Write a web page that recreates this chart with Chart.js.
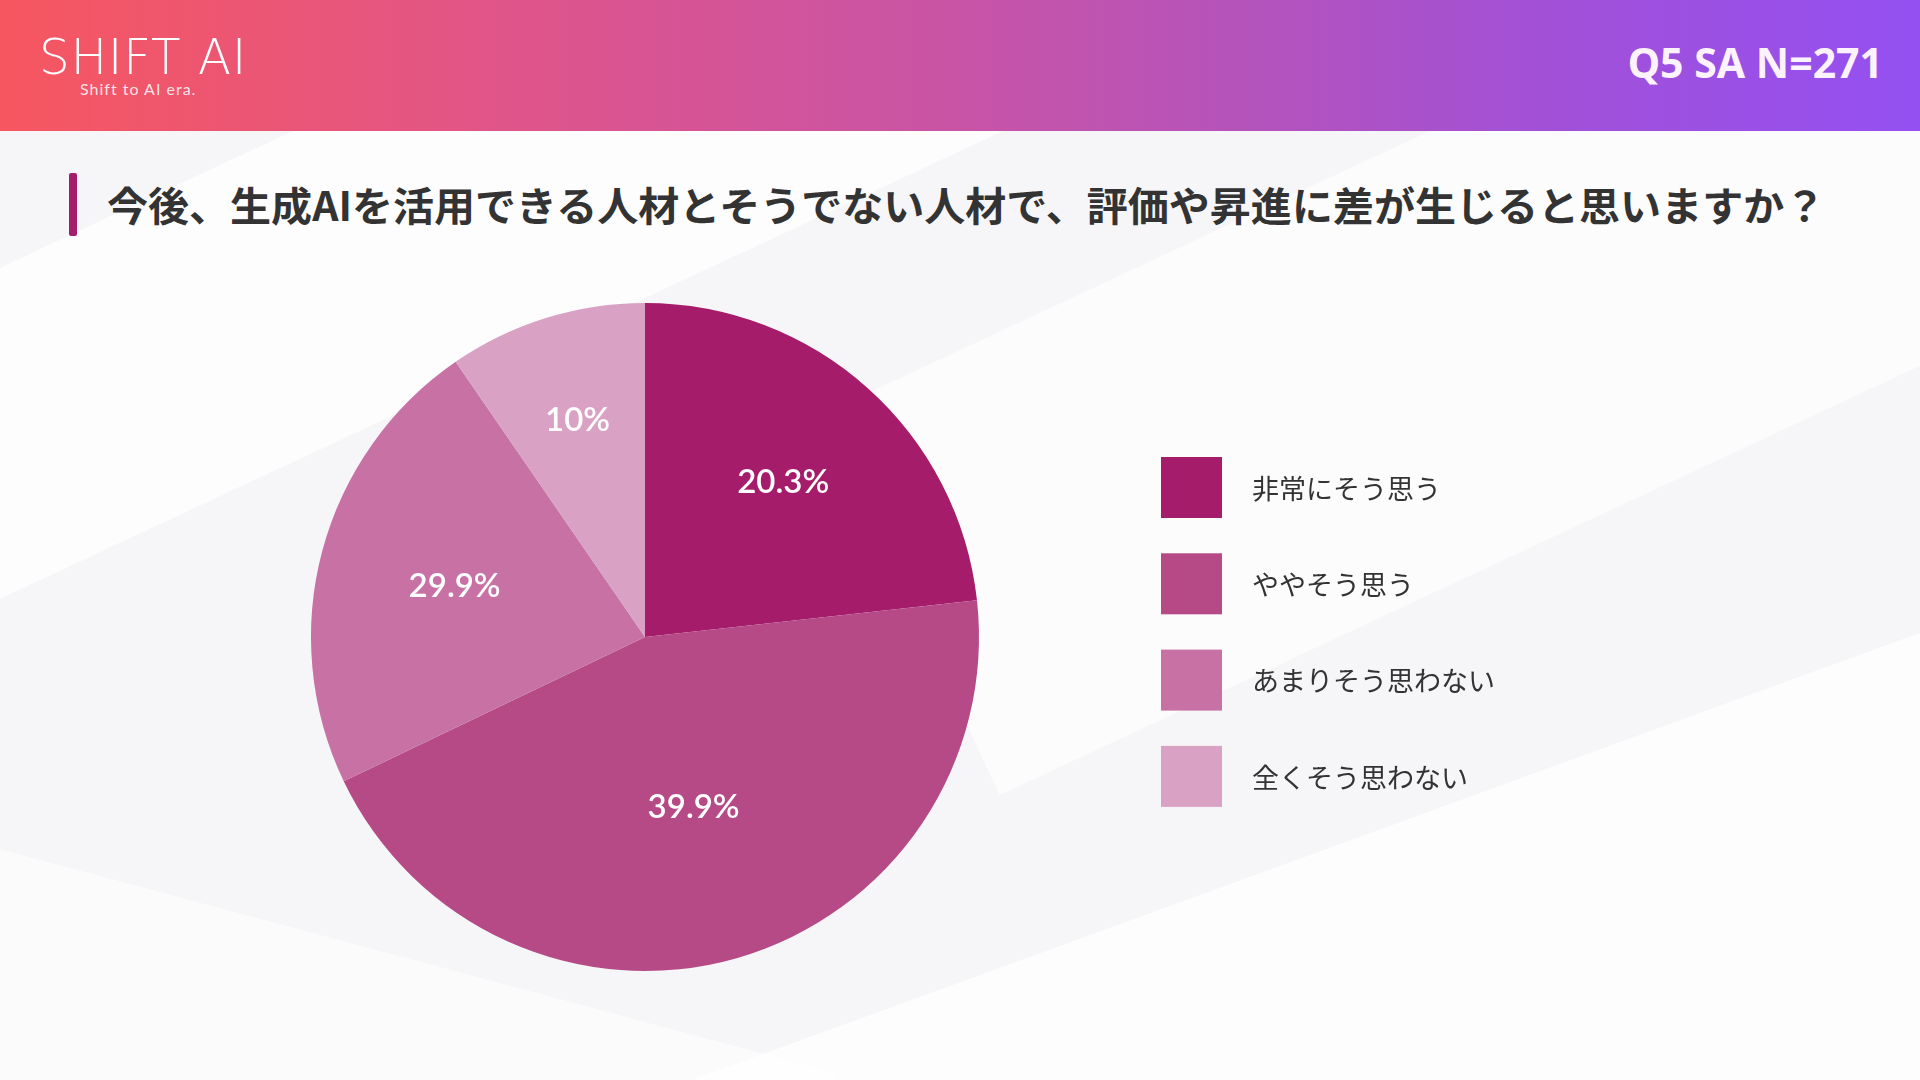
<!DOCTYPE html>
<html lang="ja">
<head>
<meta charset="utf-8">
<script src="https://cdn.jsdelivr.net/npm/chart.js@4.4.1/dist/chart.umd.min.js"></script>
<style>
  html, body { margin: 0; padding: 0; width: 1920px; height: 1080px; overflow: hidden; }
  body { position: relative; background: #f6f6f8; font-family: "Noto Sans CJK JP", "Noto Sans", sans-serif; }
  .bg { position: absolute; left: 0; top: 0; width: 1920px; height: 1080px; overflow: hidden; }
  .facet { position: absolute; background: rgba(255,255,255,0.85); }
  .header {
    position: absolute; left: 0; top: 0; width: 1920px; height: 131px;
    background: linear-gradient(90deg, #f6565f 0%, #e8567c 18%, #da5491 32%, #c854a6 50%, #b353bd 66%, #a250d6 80%, #9450f2 100%);
  }
  .logo { position: absolute; left: 39px; top: 33px; color: #fff; font-family: "DejaVu Sans", sans-serif; font-weight: 200; font-size: 49px; letter-spacing: 1px; line-height: 1; transform-origin: left top; }
  .logo-sub { position: absolute; left: 80px; top: 79px; color: rgba(255,255,255,0.85); font-family: "Lato", sans-serif; font-size: 16px; letter-spacing: 1px; }
  .qlabel { position: absolute; right: 37px; top: 38px; color: #fdf3ff; font-family: "Noto Sans", sans-serif; font-weight: 700; font-size: 41px; line-height: 1.2; }
  .title-bar { position: absolute; left: 69px; top: 173px; width: 8px; height: 63px; background: #a41e6b; border-radius: 2px; }
  .title { position: absolute; left: 107px; top: 176px; font-weight: 700; font-size: 40px; color: #333; white-space: nowrap; line-height: 1.4; transform-origin: left center; }
  #chart { position: absolute; left: 0; top: 0; }
</style>
</head>
<body>
<div class="bg">
  <div class="facet" style="left:-300px;top:120px;width:1300px;height:300px;transform:rotate(-25deg);opacity:0.9"></div>
  <div class="facet" style="left:850px;top:120px;width:1300px;height:420px;transform:rotate(-25deg);opacity:0.8"></div>
  <div class="facet" style="left:700px;top:820px;width:1500px;height:500px;transform:rotate(-20deg);opacity:0.9"></div>
  <div class="facet" style="left:-100px;top:950px;width:900px;height:400px;transform:rotate(15deg);opacity:0.7"></div>
</div>
<div class="header">
  <div class="logo" id="logo">SHIFT AI</div>
  <div class="logo-sub">Shift to AI era.</div>
  <div class="qlabel" id="qlabel"></div>
</div>
<div class="title-bar"></div>
<div class="title" id="title"></div>
<canvas id="chart" width="1920" height="1080"></canvas>
<script>
// ---- data ----
const titleText = "今後、生成AIを活用できる人材とそうでない人材で、評価や昇進に差が生じると思いますか？";
const questionLabel = "Q5 SA N=271";
const categories = ["非常にそう思う", "ややそう思う", "あまりそう思わない", "全くそう思わない"];
const sliceValues = [63, 121, 61, 26];          // slice sizes as drawn in the picture
const sliceLabels = ["20.3%", "39.9%", "29.9%", "10%"]; // label texts as printed
const sliceColors = ["#a51c6b", "#b64a86", "#c771a4", "#d9a1c4"];

document.getElementById('title').textContent = titleText;
document.getElementById('qlabel').textContent = questionLabel;

function fitWidth(id, target) {
  const t = document.getElementById(id);
  const w = t.scrollWidth;
  if (w > 0) t.style.transform = 'scaleX(' + (target / w) + ')';
}
fitWidth('title', 1718);
fitWidth('logo', 208);

const labelRadius = [0.62, 0.53, 0.59, 0.68];

const sliceLabelPlugin = {
  id: 'sliceLabels',
  afterDatasetsDraw(chart) {
    const ctx = chart.ctx;
    const meta = chart.getDatasetMeta(0);
    ctx.save();
    ctx.fillStyle = '#ffffff';
    ctx.font = '600 33px Lato, "Noto Sans", sans-serif';
    ctx.textAlign = 'center';
    ctx.textBaseline = 'middle';
    meta.data.forEach((arc, i) => {
      const p = arc.getProps(['x','y','startAngle','endAngle','outerRadius'], true);
      const mid = (p.startAngle + p.endAngle) / 2;
      const r = p.outerRadius * labelRadius[i];
      ctx.fillText(sliceLabels[i], p.x + Math.cos(mid) * r, p.y + Math.sin(mid) * r);
    });
    ctx.restore();
  }
};

const legendPlugin = {
  id: 'customLegend',
  afterDraw(chart) {
    const ctx = chart.ctx;
    const items = chart.data.labels;
    const colors = chart.data.datasets[0].backgroundColor;
    const x0 = 1161, y0 = 457, box = 61, step = 96.3;
    ctx.save();
    ctx.font = '400 27px "Noto Sans CJK JP", sans-serif';
    ctx.textBaseline = 'middle';
    ctx.textAlign = 'left';
    items.forEach((lab, i) => {
      const y = y0 + i * step;
      ctx.fillStyle = colors[i];
      ctx.fillRect(x0, y, box, box);
      ctx.fillStyle = '#333333';
      ctx.fillText(lab, 1252, y + box / 2 + 1);
    });
    ctx.restore();
  }
};

new Chart(document.getElementById('chart'), {
  type: 'pie',
  data: {
    labels: categories,
    datasets: [{
      data: sliceValues,
      backgroundColor: sliceColors,
      borderWidth: 0,
      hoverOffset: 0
    }]
  },
  options: {
    responsive: false,
    animation: false,
    events: [],
    layout: { padding: { left: 311, right: 941, top: 303, bottom: 109 } },
    plugins: { legend: { display: false }, tooltip: { enabled: false } }
  },
  plugins: [sliceLabelPlugin, legendPlugin]
});
</script>
</body>
</html>
